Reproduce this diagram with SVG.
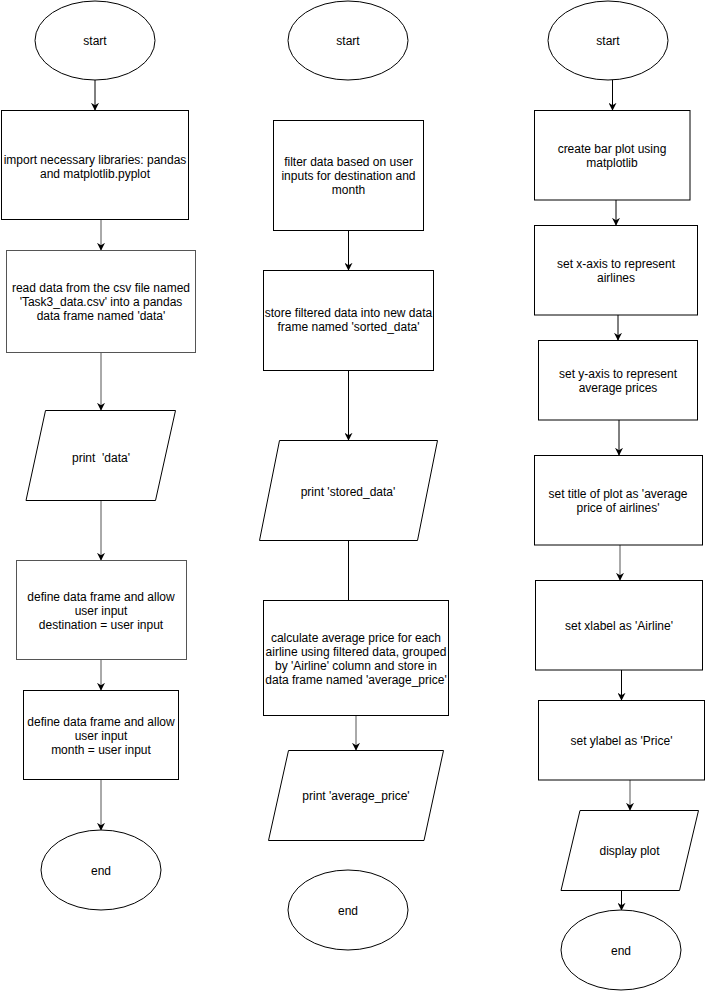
<svg xmlns="http://www.w3.org/2000/svg" width="705" height="991" viewBox="0 0 705 991">
<defs>
<marker id="arr" viewBox="0 0 10 10" refX="9" refY="5" markerWidth="8" markerHeight="8" markerUnits="userSpaceOnUse" orient="auto">
<path d="M0,0 L10,5 L0,10 L3,5 z" fill="#000"/>
</marker>
<style>
.s{fill:#fff;stroke:#000;stroke-width:1}
.t{font-family:"Liberation Sans",Arial,Helvetica,sans-serif;font-size:12px;fill:#000;text-anchor:middle}
.c{fill:none;stroke:#000;stroke-width:1;marker-end:url(#arr)}
.g{stroke:#555}
</style>
</defs>
<rect width="705" height="991" fill="#fff"/>
<g id="connectors">
<line class="c" x1="95" y1="80" x2="95" y2="110"/>
<line class="c g" x1="101" y1="220" x2="101" y2="250"/>
<line class="c g" x1="101" y1="353" x2="101" y2="410"/>
<line class="c g" x1="101" y1="500" x2="101" y2="560"/>
<line class="c g" x1="101" y1="660" x2="101" y2="690"/>
<line class="c g" x1="101" y1="780" x2="101" y2="830"/>
<line class="c" x1="348.5" y1="230" x2="348.5" y2="270"/>
<line class="c" x1="348.5" y1="370" x2="348.5" y2="440"/>
<line class="c" x1="348.5" y1="540" x2="348.5" y2="620"/>
<line class="c g" x1="356" y1="715" x2="356" y2="750"/>
<line class="c" x1="612.5" y1="80" x2="612.5" y2="110"/>
<line class="c" x1="616" y1="200" x2="616" y2="225"/>
<line class="c" x1="618" y1="315" x2="618" y2="340"/>
<line class="c" x1="619" y1="420" x2="619" y2="455"/>
<line class="c g" x1="620" y1="545" x2="620" y2="580"/>
<line class="c" x1="621.5" y1="670" x2="621.5" y2="700"/>
<line class="c g" x1="630" y1="780" x2="630" y2="810"/>
<line class="c" x1="621.5" y1="890" x2="621.5" y2="910"/>
</g>
<g id="c1-start"><ellipse class="s" cx="95" cy="40.5" rx="60" ry="39.5"/><text class="t" x="95" y="45">start</text></g>
<g id="c1-import"><rect class="s" x="1.5" y="110.5" width="187" height="109"/><text class="t" x="95" y="164">import necessary libraries: pandas</text><text class="t" x="95" y="178">and matplotlib.pyplot</text></g>
<g id="c1-read"><rect class="s g" x="6.5" y="250.5" width="189" height="102"/><text class="t" x="101" y="292">read data from the csv file named</text><text class="t" x="101" y="306">'Task3_data.csv' into a pandas</text><text class="t" x="101" y="320">data frame named 'data'</text></g>
<g id="c1-print"><polygon class="s" points="45.5,410.5 175.5,410.5 155.5,500.5 26,500.5"/><text class="t" x="101" y="462" xml:space="preserve">print  'data'</text></g>
<g id="c1-dest"><rect class="s g" x="16.5" y="560.5" width="170" height="99"/><text class="t" x="101" y="601">define data frame and allow</text><text class="t" x="101" y="615">user input</text><text class="t" x="101" y="629">destination = user input</text></g>
<g id="c1-month"><rect class="s" x="23.5" y="690.5" width="155" height="89"/><text class="t" x="101" y="726">define data frame and allow</text><text class="t" x="101" y="740">user input</text><text class="t" x="101" y="754">month = user input</text></g>
<g id="c1-end"><ellipse class="s" cx="101" cy="870" rx="60" ry="40"/><text class="t" x="101" y="875">end</text></g>
<g id="c2-start"><ellipse class="s" cx="348" cy="40.5" rx="60" ry="39.5"/><text class="t" x="348" y="45">start</text></g>
<g id="c2-filter"><rect class="s" x="273.5" y="120.5" width="150" height="110"/><text class="t" x="348.5" y="166">filter data based on user</text><text class="t" x="348.5" y="180">inputs for destination and</text><text class="t" x="348.5" y="194">month</text></g>
<g id="c2-store"><rect class="s" x="263.5" y="270.5" width="170" height="100"/><text class="t" x="348.5" y="317">store filtered data into new data</text><text class="t" x="348.5" y="331">frame named 'sorted_data'</text></g>
<g id="c2-print"><polygon class="s" points="279.5,440.5 437.5,440.5 417.5,540.5 259.5,540.5"/><text class="t" x="348" y="496">print 'stored_data'</text></g>
<g id="c2-calc"><rect class="s" x="263.5" y="600.5" width="185" height="115"/><text class="t" x="356" y="642">calculate average price for each</text><text class="t" x="356" y="656">airline using filtered data, grouped</text><text class="t" x="356" y="670">by 'Airline' column and store in</text><text class="t" x="356" y="684">data frame named 'average_price'</text></g>
<g id="c2-print2"><polygon class="s" points="288.5,750.5 443.5,750.5 424,840.5 268.5,840.5"/><text class="t" x="356" y="800">print 'average_price'</text></g>
<g id="c2-end"><ellipse class="s" cx="348" cy="910" rx="60" ry="40"/><text class="t" x="348" y="915">end</text></g>
<g id="c3-start"><ellipse class="s" cx="608" cy="40.5" rx="60" ry="39.5"/><text class="t" x="608" y="45">start</text></g>
<g id="c3-bar"><rect class="s" x="534.5" y="110.5" width="155.5" height="89.5"/><text class="t" x="612" y="153">create bar plot using</text><text class="t" x="612" y="167">matplotlib</text></g>
<g id="c3-x"><rect class="s" x="534.5" y="225.5" width="163" height="89.5"/><text class="t" x="616" y="268">set x-axis to represent</text><text class="t" x="616" y="282">airlines</text></g>
<g id="c3-y"><rect class="s" x="538.5" y="340.5" width="159" height="79.5"/><text class="t" x="618" y="378">set y-axis to represent</text><text class="t" x="618" y="392">average prices</text></g>
<g id="c3-title"><rect class="s" x="534.5" y="455.5" width="168" height="89.5"/><text class="t" x="618" y="498">set title of plot as 'average</text><text class="t" x="618" y="512">price of airlines'</text></g>
<g id="c3-xlabel"><rect class="s" x="535.5" y="580.5" width="167" height="89.5"/><text class="t" x="619" y="630">set xlabel as 'Airline'</text></g>
<g id="c3-ylabel"><rect class="s" x="538.5" y="700.5" width="166" height="79.5"/><text class="t" x="621.5" y="745">set ylabel as 'Price'</text></g>
<g id="c3-display"><polygon class="s" points="580,810.5 698.5,810.5 679.5,890.5 561,890.5"/><text class="t" x="629.5" y="855">display plot</text></g>
<g id="c3-end"><ellipse class="s" cx="621" cy="950" rx="60" ry="40"/><text class="t" x="621" y="955">end</text></g>
</svg>
